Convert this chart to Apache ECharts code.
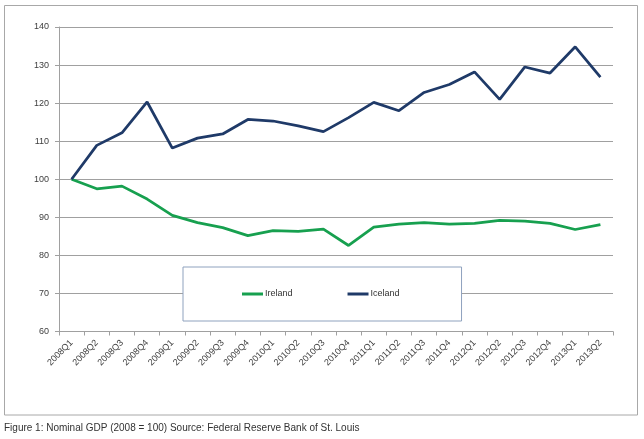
<!DOCTYPE html>
<html>
<head>
<meta charset="utf-8">
<script src="https://cdn.jsdelivr.net/npm/echarts@6/dist/echarts.min.js"></script>
<style>
html,body{margin:0;padding:0;background:#fff;}
#chart{width:644px;height:439px;}
</style>
</head>
<body>
<div id="chart"></div>
<script>
var categories = ["2008Q1","2008Q2","2008Q3","2008Q4","2009Q1","2009Q2","2009Q3","2009Q4","2010Q1","2010Q2","2010Q3","2010Q4","2011Q1","2011Q2","2011Q3","2011Q4","2012Q1","2012Q2","2012Q3","2012Q4","2013Q1","2013Q2"];
var ireland = [100, 97.5, 98.2, 94.8, 90.5, 88.6, 87.3, 85.2, 86.5, 86.3, 86.9, 82.6, 87.4, 88.2, 88.6, 88.2, 88.4, 89.2, 89.0, 88.4, 86.8, 88.1];
var iceland = [100, 108.9, 112.2, 120.3, 108.2, 110.8, 111.9, 115.7, 115.3, 114.0, 112.5, 116.2, 120.2, 118.0, 122.8, 124.9, 128.2, 121.0, 129.5, 127.9, 134.8, 126.8];
var yTicks = {min: 60, max: 140, interval: 10};
var caption = "Figure 1: Nominal GDP (2008 = 100) Source: Federal Reserve Bank of St. Louis";

var chart = echarts.init(document.getElementById('chart'), null, {renderer: 'canvas'});
var axisFont = {fontFamily: 'Liberation Sans', fontSize: 9, color: '#404040'};
chart.setOption({
  animation: false,
  backgroundColor: '#fff',
  grid: {left: 59, right: 31, top: 27, bottom: 107.5},
  xAxis: {
    type: 'category',
    data: categories,
    boundaryGap: true,
    axisLine: {lineStyle: {color: '#a0a0a0', width: 1}},
    axisTick: {show: true, length: 4, interval: 0, lineStyle: {color: '#a0a0a0'}},
    axisLabel: Object.assign({rotate: 45, interval: 0, margin: 10}, axisFont),
    splitLine: {show: false}
  },
  yAxis: {
    type: 'value',
    min: yTicks.min, max: yTicks.max, interval: yTicks.interval,
    axisLine: {show: true, lineStyle: {color: '#a0a0a0', width: 1}},
    axisTick: {show: true, length: 4, lineStyle: {color: '#a0a0a0'}},
    axisLabel: Object.assign({margin: 10}, axisFont),
    splitLine: {show: true, lineStyle: {color: '#a0a0a0', width: 1}}
  },
  legend: {
    left: 183, top: 267,
    orient: 'horizontal',
    padding: [20, 62, 20, 59],
    itemGap: 55,
    itemWidth: 21, itemHeight: 3,
    icon: 'rect',
    backgroundColor: '#fff',
    borderColor: '#8fa2be', borderWidth: 1,
    textStyle: {fontFamily: 'Liberation Sans', fontSize: 9, color: '#333', lineHeight: 14, padding: [0,0,0,-3]},
    data: ['Ireland', 'Iceland']
  },
  series: [
    {name: 'Ireland', type: 'line', data: ireland, symbol: 'none', showSymbol: false,
     itemStyle: {color: '#17a04f'}, lineStyle: {color: '#17a04f', width: 2.75}, z: 3},
    {name: 'Iceland', type: 'line', data: iceland, symbol: 'none', showSymbol: false,
     itemStyle: {color: '#1f3a68'}, lineStyle: {color: '#1f3a68', width: 2.75}, z: 3}
  ],
  graphic: [
    {type: 'rect', shape: {x: 4.5, y: 5.5, width: 633, height: 409.5},
     style: {fill: 'none', stroke: '#a8a8a8', lineWidth: 1}, z: -10, silent: true},
    {type: 'text', left: 4, top: 423,
     style: {text: caption, font: '10px "Liberation Sans"', fill: '#333'}}
  ]
});
</script>
</body>
</html>
